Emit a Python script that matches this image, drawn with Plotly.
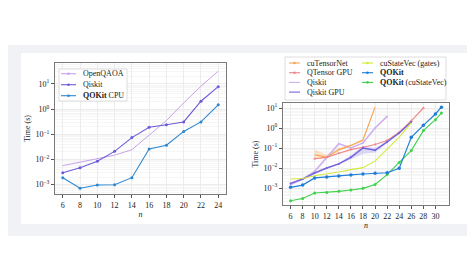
import plotly.graph_objects as go

W, H = 475, 267

# ---- left panel: CPU comparison ----
n_left = [6, 8, 10, 12, 14, 16, 18, 20, 22, 24]
openqaoa = [0.0057, 0.0078, 0.0105, 0.0148, 0.0245, 0.089, 0.35, 1.76, 8.1, 32]
qiskit_cpu = [0.0030, 0.0047, 0.0085, 0.021, 0.074, 0.19, 0.24, 0.31, 2.05, 7.8]
qokit_cpu = [0.0019, 0.00072, 0.00097, 0.0010, 0.0019, 0.026, 0.037, 0.13, 0.31, 1.48]

# ---- right panel: GPU comparison ----
n_cutn = [10, 12, 14, 16, 18, 20]
cutensornet = [0.046, 0.034, 0.083, 0.135, 0.25, 11]
cutn_hi = [0.085, 0.045, 0.1, 0.15, 0.28, 12]
cutn_lo = [0.03, 0.03, 0.07, 0.12, 0.22, 10]

n_qtensor = [10, 12, 14, 16, 18, 20, 22, 24, 26, 28]
qtensor_gpu = [0.029, 0.034, 0.054, 0.083, 0.11, 0.15, 0.24, 0.61, 2.3, 10]

n_qiskit = [6, 8, 10, 12, 14, 16, 18, 20, 22]
qiskit = [0.0015, 0.0028, 0.0068, 0.034, 0.165, 0.1, 0.18, 1.0, 3.8]

n_qgpu = [6, 8, 10, 12, 14, 16, 18, 20, 22, 24, 26]
qiskit_gpu = [0.0017, 0.0028, 0.0056, 0.010, 0.016, 0.034, 0.10, 0.077, 0.20, 0.56, 2.0]
qgpu_hi = [0.0018, 0.0029, 0.0058, 0.011, 0.018, 0.045, 0.13, 0.10, 0.22, 0.6, 2.1]
qgpu_lo = [0.0016, 0.0027, 0.0054, 0.0095, 0.015, 0.028, 0.05, 0.06, 0.18, 0.52, 1.9]

n_csv = [6, 8, 10, 12, 14, 16, 18, 20, 22, 24, 26]
custatevec = [0.0028, 0.0030, 0.0041, 0.0050, 0.0063, 0.0083, 0.0104, 0.022, 0.083, 0.35, 1.8]

n_qokit = [6, 8, 10, 12, 14, 16, 18, 20, 22, 24, 26, 28, 30, 31]
qokit = [0.00108, 0.0014, 0.0032, 0.0035, 0.0040, 0.0045, 0.0050, 0.0054, 0.0058, 0.0096,
         0.34, 1.36, 5.0, 11]
qokit_csv = [0.00023, 0.00030, 0.00056, 0.00060, 0.00068, 0.00080, 0.00096, 0.0015, 0.0047,
             0.019, 0.074, 0.74, 2.6, 5.6]

xticks_left = list(range(6, 25, 2))
xticks_right = list(range(6, 31, 2))
ytick_vals = [1e-3, 1e-2, 1e-1, 1e0, 1e1]
ytick_text = ["10<sup>\u22123</sup>", "10<sup>\u22122</sup>", "10<sup>\u22121</sup>",
              "10<sup>0</sup>", "10<sup>1</sup>"]

FONT = "Liberation Serif"
C = {
    "openqaoa": "#c7a3ea", "qiskit_l": "#6b5bd9", "qokit_cpu": "#2c87d2",
    "cutn": "#f7a552", "qtensor": "#f08686", "qiskit": "#cfb0ee", "qgpu": "#7365e0",
    "csv": "#d6e83a", "qokit": "#1f7fd6", "qokit_csv": "#3fd24c",
}


def px(x):
    return x / W


def py(y):
    return 1 - y / H


fig = go.Figure()


def line(x, y, color, xa, ya, width=1.0, size=3, symbol="circle"):
    fig.add_trace(go.Scatter(
        x=x, y=y, mode="lines+markers", xaxis=xa, yaxis=ya, showlegend=False,
        line=dict(color=color, width=width),
        marker=dict(color=color, size=size, symbol=symbol, line=dict(width=0)),
    ))


def band(x, lo, hi, color, xa, ya):
    fig.add_trace(go.Scatter(x=x, y=hi, mode="lines", xaxis=xa, yaxis=ya, showlegend=False,
                             line=dict(width=0), hoverinfo="skip"))
    fig.add_trace(go.Scatter(x=x, y=lo, mode="lines", xaxis=xa, yaxis=ya, showlegend=False,
                             line=dict(width=0), fill="tonexty", fillcolor=color,
                             hoverinfo="skip"))


line(n_left, openqaoa, C["openqaoa"], "x", "y", 1.0, 3, "cross-thin")
line(n_left, qiskit_cpu, C["qiskit_l"], "x", "y", 1.1, 3)
line(n_left, qokit_cpu, C["qokit_cpu"], "x", "y", 1.1, 3)

band(n_cutn, cutn_lo, cutn_hi, "rgba(247,165,82,0.3)", "x2", "y2")
band(n_qgpu, qgpu_lo, qgpu_hi, "rgba(115,101,224,0.22)", "x2", "y2")
line(n_qiskit, qiskit, C["qiskit"], "x2", "y2", 1.6, 2)
line(n_cutn, cutensornet, C["cutn"], "x2", "y2", 1.1, 3, "cross-thin")
line(n_qtensor, qtensor_gpu, C["qtensor"], "x2", "y2", 1.1, 3, "triangle-up")
line(n_qgpu, qiskit_gpu, C["qgpu"], "x2", "y2", 1.5, 2)
line(n_csv, custatevec, C["csv"], "x2", "y2", 1.1, 3, "cross-thin")
line(n_qokit, qokit_csv, C["qokit_csv"], "x2", "y2", 1.1, 3)
line(n_qokit, qokit, C["qokit"], "x2", "y2", 1.2, 3.5)

frame = dict(showline=True, linecolor="#7a7a7a", linewidth=1, mirror=True,
             ticks="outside", ticklen=3, tickcolor="#555", gridcolor="#ececec",
             gridwidth=0.8, zeroline=False,
             tickfont=dict(family=FONT, size=8, color="#222"))
yax = dict(frame, type="log", tickvals=ytick_vals, ticktext=ytick_text,
           minor=dict(showgrid=True, gridcolor="#f6f6f6", dtick="D1", ticks=""),
           title=dict(text="Time (s)", font=dict(family=FONT, size=8, color="#222"),
                      standoff=3))
xt = dict(text="<i>n</i>", font=dict(family=FONT, size=8, color="#222"), standoff=2)

fig.update_layout(
    width=W, height=H, margin=dict(l=0, r=0, t=0, b=0),
    paper_bgcolor="white", plot_bgcolor="rgba(0,0,0,0)",
    font=dict(family=FONT, size=8),
    xaxis=dict(frame, domain=[px(47), px(218)], range=[5.1, 24.9], tickvals=xticks_left,
               title=xt, anchor="y"),
    yaxis=dict(yax, domain=[py(186), py(55)], range=[-3.37, 1.83], anchor="x"),
    xaxis2=dict(frame, domain=[px(275), px(441)], range=[4.75, 32.25],
                tickvals=xticks_right, title=xt, anchor="y2"),
    yaxis2=dict(yax, domain=[py(197), py(95)], range=[-3.85, 1.25], anchor="x2"),
)

# page background and card
shapes = [
    dict(type="rect", xref="paper", yref="paper", x0=0, x1=1, y0=py(228), y1=py(37),
         fillcolor="#f0f2f5", line=dict(width=0), layer="below"),
    dict(type="rect", xref="paper", yref="paper", x0=px(13), x1=px(462), y0=py(216),
         y1=py(45), fillcolor="white", line=dict(width=0), layer="below"),
]
annotations = []

# hand-made legends (matplotlib spacing is tighter than plotly's legend allows)
left_legend = [("OpenQAOA", C["openqaoa"], "cross"), ("Qiskit", C["qiskit_l"], "dot"),
               ("<b>QOKit</b> CPU", C["qokit_cpu"], "dot")]
right_col1 = [("cuTensorNet", C["cutn"], "cross"), ("QTensor GPU", C["qtensor"], "dot"),
              ("Qiskit", C["qiskit"], None), ("Qiskit GPU", C["qgpu"], None)]
right_col2 = [("cuStateVec (gates)", C["csv"], "cross"), ("<b>QOKit</b>", C["qokit"], "dot"),
              ("<b>QOKit</b> (cuStateVec)", C["qokit_csv"], "dot")]


def legend_box(x0, x1, y0, y1):
    shapes.append(dict(type="rect", xref="paper", yref="paper", x0=px(x0), x1=px(x1),
                       y0=py(y1), y1=py(y0), fillcolor="white",
                       line=dict(color="#d6d6d6", width=0.8), layer="above"))


def legend_col(items, x0, y0, dy, lw=15, width=1.1):
    for i, (name, color, mk) in enumerate(items):
        y = y0 + i * dy
        shapes.append(dict(type="line", xref="paper", yref="paper", x0=px(x0), x1=px(x0 + lw),
                           y0=py(y), y1=py(y), line=dict(color=color, width=width),
                           layer="above"))
        if mk:
            cx = x0 + lw / 2
            shapes.append(dict(type="circle", xref="paper", yref="paper",
                               x0=px(cx - 1.3), x1=px(cx + 1.3), y0=py(y + 1.3),
                               y1=py(y - 1.3), fillcolor=color, line=dict(width=0),
                               layer="above"))
        annotations.append(dict(text=name, xref="paper", yref="paper", x=px(x0 + lw + 5),
                                y=py(y), xanchor="left", yanchor="middle", showarrow=False,
                                font=dict(family=FONT, size=8, color="#222")))


legend_box(51, 119, 61, 93)
legend_col(left_legend, 53, 65.7, 11)
legend_box(277, 438, 49, 92)
legend_col(right_col1, 281, 55, 9.7, lw=11)
legend_col(right_col2, 354, 55, 9.7, lw=11)

fig.update_layout(shapes=shapes, annotations=annotations)

fig.write_html("out.html")
